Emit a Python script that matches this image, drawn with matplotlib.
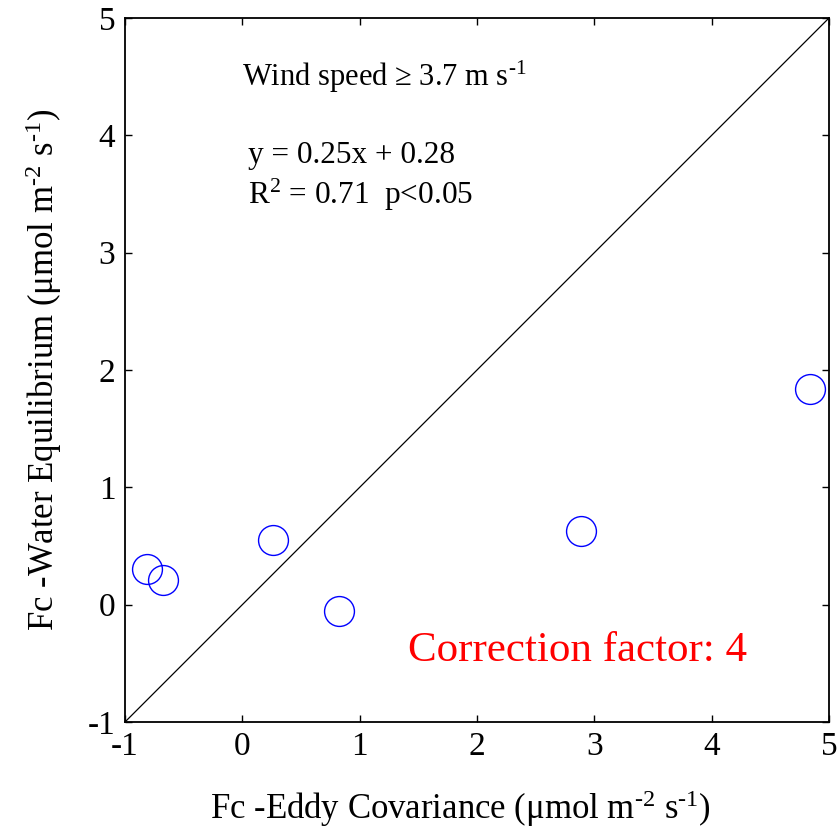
import matplotlib
matplotlib.use("Agg")
import matplotlib.pyplot as plt
import numpy as np

# Data
fc_eddy = [-0.81, -0.68, 0.26, 0.82, 2.89, 4.84]
fc_water = [0.30, 0.21, 0.55, -0.05, 0.63, 1.84]
ticks = [-1, 0, 1, 2, 3, 4, 5]
tick_labels = ["-1", "0", "1", "2", "3", "4", "5"]

plt.rcParams['font.family'] = ['Liberation Serif', 'DejaVu Serif']
plt.rcParams['mathtext.fontset'] = 'custom'
plt.rcParams['mathtext.rm'] = 'Liberation Serif'
plt.rcParams['mathtext.it'] = 'Liberation Serif:italic'
plt.rcParams['mathtext.bf'] = 'Liberation Serif:bold'

fig = plt.figure(figsize=(8.38, 8.35), dpi=100)
W, H = 838, 835
ax = fig.add_axes([125 / W, 1 - 722 / H, 704 / W, 704 / H])

ax.plot([-1, 5], [-1, 5], color='black', lw=0.9)
ax.plot(fc_eddy, fc_water, linestyle='none', marker='o', markersize=21.5,
        markerfacecolor='none', markeredgecolor='#0000ff', markeredgewidth=1.0)

ax.set_xlim(-1, 5)
ax.set_ylim(-1, 5)
ax.set_xticks(ticks)
ax.set_xticklabels(tick_labels)
ax.set_yticks(ticks)
ax.set_yticklabels(tick_labels)
ax.tick_params(direction='in', length=5, width=1, top=True, right=True,
               labelsize=24, pad=7)
for s in ax.spines.values():
    s.set_linewidth(1.3)

unit = '(μmol m$^{\\text{-2}}$ s$^{\\text{-1}}$)'
ax.set_xlabel('Fc -Eddy Covariance ' + unit, fontsize=25)
ax.set_ylabel('Fc -Water Equilibrium ' + unit, fontsize=25, labelpad=17)
ax.xaxis.set_label_coords(0.477, -0.094)

ax.text(0.0, 4.5, 'Wind speed ≥ 3.7 m s$^{\\text{-1}}$', fontsize=22, va='center', ha='left')
ax.text(0.05, 3.83, 'y = 0.25x + 0.28', fontsize=22.5, va='center', ha='left')
ax.text(0.05, 3.49, 'R$^{2}$ = 0.71  p<0.05', fontsize=22.5, va='center', ha='left')
ax.text(1.41, -0.39, 'Correction factor: 4', fontsize=31, va='center', ha='left', color='#ff0000')

fig.savefig('out.png', dpi=100)
